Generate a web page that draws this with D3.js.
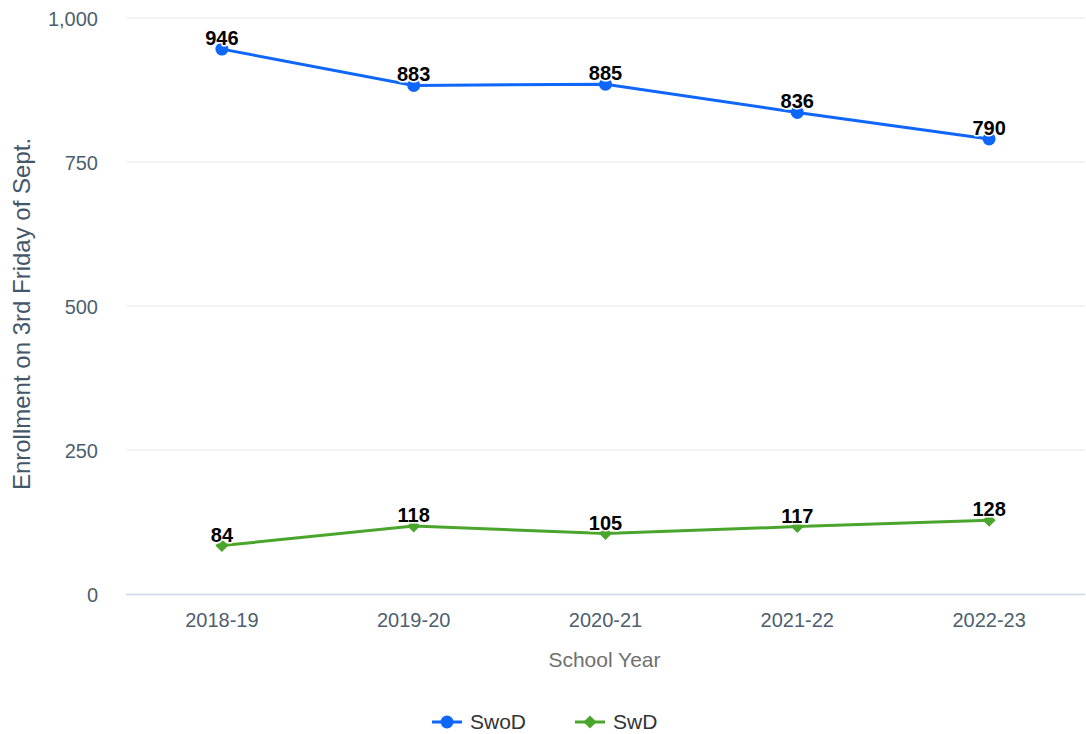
<!DOCTYPE html>
<html><head><meta charset="utf-8">
<script src="https://cdn.jsdelivr.net/npm/d3@7"></script>
<style>body{margin:0;background:#fff;font-family:"Liberation Sans",Arial,sans-serif;}</style>
</head><body><svg id="c" width="1086" height="734"></svg>
<script>
const categories = ["2018-19","2019-20","2020-21","2021-22","2022-23"];
const swod = [946, 883, 885, 836, 790];
const swd = [84, 118, 105, 117, 128];
const yTicks = [0, 250, 500, 750, 1000];
const seriesNames = ["SwoD", "SwD"];
const colors = ["#0f66fb", "#4aa52c"];

const svg = d3.select("#c");
const L = 126, R = 1085, T = 18, B = 594;
const x = d3.scaleBand().domain(categories).range([L, R]);
const y = d3.scaleLinear().domain([0, 1000]).range([B, T]);
const fmt = d3.format(",");
const FF = "Liberation Sans, Arial, sans-serif";

// gridlines
svg.append("g").selectAll("line").data(yTicks.filter(d => d > 0)).join("line")
  .attr("x1", L).attr("x2", R).attr("y1", d => y(d)).attr("y2", d => y(d))
  .attr("stroke", "#e6e6e6").attr("stroke-width", 1);
svg.append("line").attr("x1", L).attr("x2", R).attr("y1", y(0) + 0.5).attr("y2", y(0) + 0.5)
  .attr("stroke", "#ccd6eb").attr("stroke-width", 1.5);

// y axis labels
const yAxis = d3.axisLeft(y).tickValues(yTicks).tickFormat(fmt).tickSize(0).tickPadding(0);
const yg = svg.append("g").attr("transform", `translate(${L - 28},0)`).call(yAxis);
yg.select(".domain").remove();
yg.selectAll("text").attr("font-size", 20).attr("fill", "#4d5f6f").attr("font-family", FF).attr("dy", "0.35em");

// x axis labels
const xAxis = d3.axisBottom(x).tickSize(0).tickPadding(0);
const xg = svg.append("g").attr("transform", `translate(0,${B + 14})`).call(xAxis);
xg.select(".domain").remove();
xg.selectAll("text").attr("font-size", 20).attr("fill", "#4d5f6f").attr("font-family", FF).attr("dy", "0.95em");

// axis titles
svg.append("text").attr("x", (L + R) / 2 - 1).attr("y", 667).attr("text-anchor", "middle")
  .attr("font-size", 21).attr("fill", "#707070").attr("font-family", FF).text("School Year");
svg.append("text").attr("transform", `translate(30,${(T + B) / 2 + 8}) rotate(-90)`).attr("text-anchor", "middle")
  .attr("font-size", 24).attr("fill", "#44576a").attr("font-family", FF).text("Enrollment on 3rd Friday of Sept.");

const line = d3.line().x((d, i) => x(categories[i]) + x.bandwidth() / 2).y(d => y(d));
const all = [swod, swd];
all.forEach((data, s) => {
  const g = svg.append("g");
  g.append("path").datum(data).attr("d", line).attr("fill", "none").attr("stroke", colors[s]).attr("stroke-width", 3);
  data.forEach((v, i) => {
    const cx = x(categories[i]) + x.bandwidth() / 2, cy = y(v);
    if (s === 0) g.append("circle").attr("cx", cx).attr("cy", cy).attr("r", 6.5).attr("fill", colors[s]);
    else g.append("path").attr("d", `M${cx},${cy - 6.5}L${cx + 6.5},${cy}L${cx},${cy + 6.5}L${cx - 6.5},${cy}Z`).attr("fill", colors[s]);
  });
  g.selectAll("text.lbl").data(data).join("text").attr("class", "lbl")
    .attr("x", (d, i) => x(categories[i]) + x.bandwidth() / 2)
    .attr("y", d => y(d) - 4)
    .attr("text-anchor", "middle").attr("font-size", 20).attr("font-weight", "bold").attr("font-family", FF)
    .attr("fill", "#000").attr("stroke", "#fff").attr("stroke-width", 3).attr("paint-order", "stroke")
    .attr("stroke-linejoin", "round").text(d => d);
});

// legend
const legX = [432, 575];
seriesNames.forEach((n, s) => {
  const lx = legX[s], ly = 722;
  svg.append("line").attr("x1", lx).attr("x2", lx + 30).attr("y1", ly).attr("y2", ly).attr("stroke", colors[s]).attr("stroke-width", 3);
  if (s === 0) svg.append("circle").attr("cx", lx + 15).attr("cy", ly).attr("r", 6.5).attr("fill", colors[s]);
  else svg.append("path").attr("d", `M${lx + 15},${ly - 6.5}L${lx + 21.5},${ly}L${lx + 15},${ly + 6.5}L${lx + 8.5},${ly}Z`).attr("fill", colors[s]);
  svg.append("text").attr("x", lx + 38).attr("y", ly).attr("dy", "0.35em").attr("font-size", 21).attr("font-family", FF).attr("fill", "#333").text(n);
});
</script></body></html>
